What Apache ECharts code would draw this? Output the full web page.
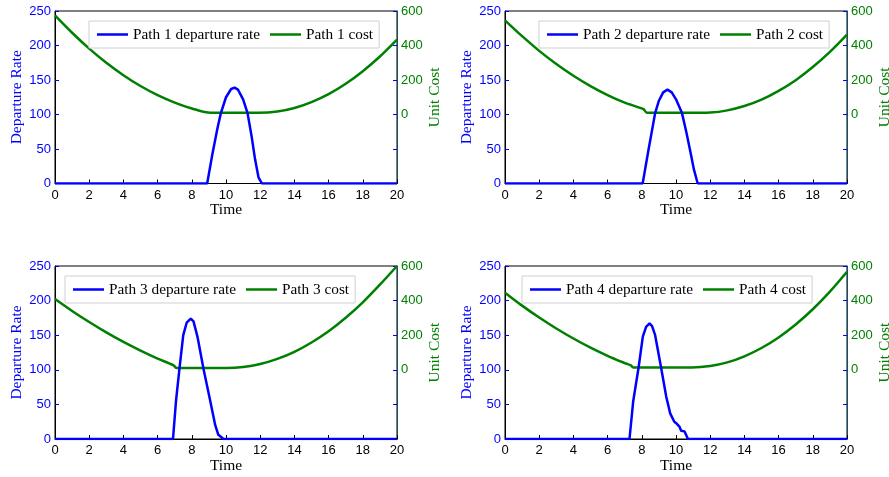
<!DOCTYPE html>
<html><head><meta charset="utf-8">
<script src="https://cdn.jsdelivr.net/npm/echarts@6/dist/echarts.min.js"></script>
<style>html,body{margin:0;padding:0;background:#fff}#c{width:889px;height:477px}</style>
</head><body><div id="c"></div>
<script>
const pathNames = ['Path 1', 'Path 2', 'Path 3', 'Path 4'];
const xTickStep = 2;

const rate1 = [[0,0],[8.9,0],[9.2,42],[9.5,80],[9.7,102],[10.0,125],[10.3,137],[10.5,139],[10.7,136],[11.0,122],[11.26,102],[11.5,68],[11.7,35],[11.9,9],[12.1,0],[20,0]];
const rate2 = [[0,0],[8.05,0],[8.4,50],[8.78,102],[9.0,120],[9.25,132],[9.5,136],[9.75,132],[10.0,122],[10.35,102],[10.6,75],[10.85,45],[11.05,20],[11.27,0],[20,0]];
const rate3 = [[0,0],[6.9,0],[7.08,56],[7.28,102],[7.5,150],[7.7,168],[7.94,174],[8.1,170],[8.33,148],[8.68,102],[9.07,56],[9.37,20],[9.55,6],[9.86,0],[20,0]];
const rate4 = [[0,0],[7.28,0],[7.5,55],[7.81,103],[8.06,148],[8.25,162],[8.45,167],[8.6,163],[8.78,150],[9.13,103],[9.43,61],[9.66,37],[9.9,25],[10.05,22],[10.2,18],[10.3,12],[10.5,11],[10.7,0],[20,0]];

const cost1 = [[0,575],[1,474],[2,382],[3,300],[4,228],[5,165],[6,112],[7,69],[8,35],[9.1,10],[11.9,10],[13,17],[14,38],[15,72],[16,118],[17,178],[18,251],[19,336],[20,434]];
const cost2 = [[0,546],[1,454],[2,369],[3,293],[4,225],[5,165],[6,113],[7,69],[8.1,31],[8.3,10],[11.5,10],[12,11],[13,24],[14,49],[15,86],[16,137],[17,199],[18,275],[19,363],[20,463]];
const cost3 = [[0,409],[1,340],[2,276],[3,216],[4,161],[5,111],[6,65],[6.93,26],[7.12,10],[10.05,10],[11,16],[12,33],[13,63],[14,104],[15,158],[16,223],[17,301],[18,390],[19,492],[20,600]];
const cost4 = [[0,446],[1,371],[2,302],[3,239],[4,181],[5,128],[6,81],[7,39],[7.36,25],[7.5,14],[10.93,14],[12,22],[13,43],[14,78],[15,126],[16,187],[17,262],[18,350],[19,452],[20,567]];

const rates = [rate1, rate2, rate3, rate4];
const costs = [cost1, cost2, cost3, cost4];

const BLUE = '#0000ff', GREEN = '#008000';
const SANS = 'Liberation Sans', SERIF = 'Liberation Serif';

const grids = [
  {left: 55, top: 11, width: 342, height: 172.5},
  {left: 505, top: 11, width: 342, height: 172.5},
  {left: 55, top: 266, width: 342, height: 173},
  {left: 505, top: 266, width: 342, height: 173}
];
const legendPos = [
  {left: 89, top: 21}, {left: 539, top: 21}, {left: 65, top: 276}, {left: 522, top: 276}
];

const option = {
  animation: false,
  backgroundColor: '#fff',
  grid: grids.map(g => Object.assign({show: true, borderColor: '#000', borderWidth: 1,
    backgroundColor: 'transparent', containLabel: false, outerBoundsMode: 'none'}, g)),
  legend: pathNames.map((p, i) => ({
    data: [p + ' departure rate', p + ' cost'],
    left: legendPos[i].left, top: legendPos[i].top,
    orient: 'horizontal', icon: 'rect', itemWidth: 31, itemHeight: 2.5, itemGap: 10,
    padding: [6, 6, 6, 8], borderColor: '#d0d0d0', borderWidth: 1, backgroundColor: '#fff',
    selectedMode: false,
    textStyle: {fontFamily: SERIF, fontSize: 15.3, color: '#000'}
  })),
  xAxis: grids.map((g, i) => ({
    gridIndex: i, type: 'value', min: 0, max: 20, interval: xTickStep,
    axisLine: {show: true, onZero: false, lineStyle: {color: '#000', width: 1}},
    axisTick: {show: true, inside: true, length: 4, lineStyle: {color: '#000'}},
    axisLabel: {color: '#000', fontFamily: SANS, fontSize: 13, margin: 5},
    splitLine: {show: false},
    name: 'Time', nameLocation: 'middle', nameGap: 18,
    nameTextStyle: {fontFamily: SERIF, fontSize: 15.5, color: '#000'}
  })),
  yAxis: [],
  series: []
};

pathNames.forEach((p, i) => {
  option.yAxis.push({
    gridIndex: i, type: 'value', min: 0, max: 250, interval: 50, position: 'left',
    axisLine: {show: true, lineStyle: {color: '#000'}},
    axisTick: {show: true, inside: true, length: 4, lineStyle: {color: BLUE}},
    axisLabel: {color: BLUE, fontFamily: SANS, fontSize: 13, margin: 4},
    splitLine: {show: false},
    name: 'Departure Rate', nameLocation: 'middle', nameGap: 29.5,
    nameTextStyle: {color: BLUE, fontFamily: SERIF, fontSize: 15.5}
  });
  option.yAxis.push({
    gridIndex: i, type: 'value', min: -400, max: 600, interval: 200, position: 'right',
    axisLine: {show: true, lineStyle: {color: '#1a4d66'}},
    axisTick: {show: true, inside: true, length: 4, lineStyle: {color: BLUE}},
    axisLabel: {color: GREEN, fontFamily: SANS, fontSize: 13, margin: 4,
      formatter: v => (v < 0 ? '' : String(v))},
    splitLine: {show: false},
    name: 'Unit Cost', nameLocation: 'middle', nameGap: 30,
    nameTextStyle: {color: GREEN, fontFamily: SERIF, fontSize: 15.5}
  });
  option.series.push({
    name: p + ' departure rate', type: 'line', xAxisIndex: i, yAxisIndex: 2 * i,
    data: rates[i], symbol: 'none', showSymbol: false,
    lineStyle: {color: BLUE, width: 2.5}, itemStyle: {color: BLUE}, z: 3
  });
  option.series.push({
    name: p + ' cost', type: 'line', xAxisIndex: i, yAxisIndex: 2 * i + 1,
    data: costs[i], symbol: 'none', showSymbol: false, smooth: 0.3,
    lineStyle: {color: GREEN, width: 2.5}, itemStyle: {color: GREEN}, z: 2
  });
});

const chart = echarts.init(document.getElementById('c'), null, {renderer: 'canvas'});
chart.setOption(option);
</script>
</body></html>
